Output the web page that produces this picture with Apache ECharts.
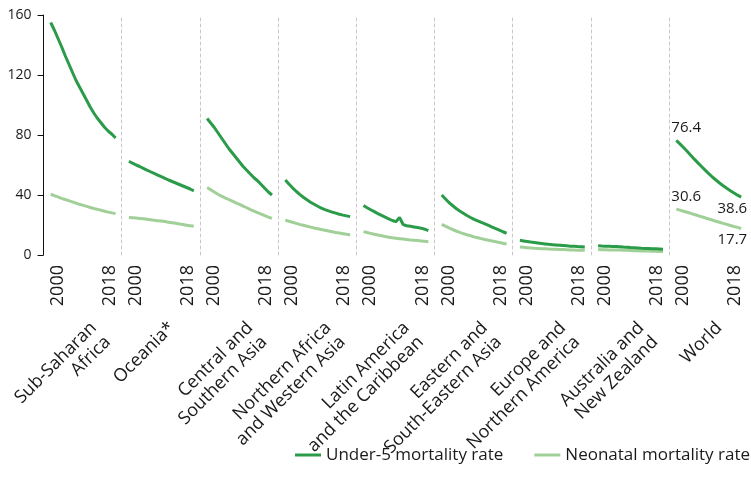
<!DOCTYPE html>
<html><head><meta charset="utf-8">
<script src="https://cdn.jsdelivr.net/npm/echarts@6/dist/echarts.min.js"></script>
<style>html,body{margin:0;padding:0;background:#fff}#c{width:751px;height:494px}</style>
</head><body><div id="c"></div><script>
const years = [2000,2001,2002,2003,2004,2005,2006,2007,2008,2009,2010,2011,2012,2013,2014,2015,2016,2017,2018];
const yearTickLabels = ['2000', '2018'];
const seriesNames = ['Under-5 mortality rate', 'Neonatal mortality rate'];
const regions = ['Sub-Saharan\nAfrica','Oceania*','Central and\nSouthern Asia','Northern Africa\nand Western Asia','Latin America\nand the Caribbean','Eastern and\nSouth-Eastern Asia','Europe and\nNorthern America','Australia and\nNew Zealand','World'];

const u5SSA = [155,150,144.5,139,133,127.5,122,116.5,112,107.5,103,98.5,94.5,91,88,85,82.5,80.5,78];
const nnSSA = [40.5,39.6,38.7,37.8,37,36.2,35.4,34.6,33.8,33.1,32.4,31.7,31,30.4,29.8,29.2,28.6,28.1,27.6];
const u5Oce = [62.5,61.2,60,59,57.8,56.6,55.5,54.4,53.3,52.2,51.1,50,49,48,47,46,45,44,42.8];
const nnOce = [25,24.8,24.6,24.4,24.1,23.8,23.5,23.2,22.9,22.6,22.3,21.9,21.5,21.1,20.7,20.3,19.9,19.5,19.1];
const u5CSA = [91,88,85,81.5,78,74.5,71,68,65,62,59,56.5,54,51.5,49.5,47,44.5,42,40];
const nnCSA = [45,43.5,42,40.5,39.3,38.1,37,35.9,34.8,33.7,32.6,31.5,30.3,29.3,28.3,27.3,26.3,25.3,24.4];
const u5NAWA = [50,47.3,44.8,42.5,40.4,38.5,36.8,35.2,33.8,32.5,31.3,30.3,29.4,28.6,27.9,27.2,26.6,26.1,25.6];
const nnNAWA = [23.3,22.5,21.8,21.1,20.4,19.8,19.2,18.6,18,17.5,17,16.5,16,15.5,15,14.6,14.2,13.8,13.4];
const u5LAC = [33,31.5,30.2,28.9,27.6,26.4,25.2,24.1,23,22.2,25,20.3,19.5,19.1,18.7,18.3,17.9,17.2,16.3];
const nnLAC = [15.6,15,14.4,13.8,13.3,12.8,12.3,11.9,11.5,11.2,10.9,10.6,10.3,10,9.8,9.6,9.4,9.1,8.9];
const u5ESEA = [40,37.5,35,33,31,29.3,27.8,26.3,25,23.8,22.7,21.7,20.8,19.7,18.6,17.6,16.6,15.5,14.5];
const nnESEA = [20.4,19.2,18.1,17,16,15.1,14.3,13.5,12.8,12.1,11.5,10.9,10.3,9.8,9.3,8.8,8.3,7.8,7.4];
const u5ENA = [9.8,9.4,9.0,8.6,8.3,8.0,7.7,7.4,7.1,6.9,6.7,6.5,6.3,6.1,5.9,5.8,5.6,5.5,5.4];
const nnENA = [5.3,5.1,4.9,4.7,4.5,4.4,4.2,4.1,4.0,3.9,3.8,3.7,3.6,3.5,3.4,3.3,3.2,3.15,3.1];
const u5ANZ = [6.2,6.0,5.9,5.8,5.7,5.6,5.5,5.3,5.2,5.0,4.9,4.7,4.5,4.4,4.3,4.2,4.1,4.0,3.9];
const nnANZ = [3.6,3.5,3.5,3.4,3.4,3.3,3.3,3.2,3.1,3.0,2.9,2.8,2.7,2.7,2.6,2.5,2.5,2.4,2.4];
const u5World = [76.4,74.1,71.7,69.1,66.5,63.9,61.4,59.0,56.6,54.3,52.0,50.0,48.0,46.2,44.5,42.9,41.4,39.9,38.6];
const nnWorld = [30.6,29.9,29.2,28.5,27.8,27.0,26.3,25.5,24.8,24.0,23.3,22.5,21.8,21.1,20.4,19.7,19.0,18.4,17.7];

const panels = [
  [u5SSA, nnSSA], [u5Oce, nnOce], [u5CSA, nnCSA], [u5NAWA, nnNAWA], [u5LAC, nnLAC],
  [u5ESEA, nnESEA], [u5ENA, nnENA], [u5ANZ, nnANZ], [u5World, nnWorld]
];
const labelledPanel = 8;

const FONT = '"Open Sans", "Noto Sans", sans-serif';
const TXT = '#1a1a1a';
const COL_U5 = '#2a9b48';
const COL_NN = '#a0d098';
const L = 43.5, W = 78.2, T = 15, H = 240;
const X_MIN = 1998, X_MAX = 2019.7;

const grids = [], xAxes = [], yAxes = [], series = [];

function buildData(vals, withLabels) {
  return vals.map((v, k) => {
    const item = { value: [years[k], v] };
    if (withLabels && k === 0) {
      item.label = { show: true, position: 'top', align: 'left', offset: [-5, 0], distance: 5 };
    } else if (withLabels && k === vals.length - 1) {
      item.label = { show: true, position: 'bottom', align: 'right', offset: [6, 0], distance: 4 };
    }
    return item;
  });
}

panels.forEach((p, i) => {
  grids.push({ left: L + i * W, top: T, width: W, height: H });
  xAxes.push({
    type: 'value', gridIndex: i, min: X_MIN, max: X_MAX,
    axisLine: { show: false }, axisTick: { show: false }, splitLine: { show: false },
    axisLabel: {
      customValues: [2001.9, 2016.35], rotate: 90, margin: 10,
      fontSize: 18, color: TXT, fontFamily: FONT,
      formatter: v => v < 2009 ? yearTickLabels[0] : yearTickLabels[1]
    }
  });
  const first = i === 0;
  yAxes.push({
    type: 'value', gridIndex: i, min: 0, max: 160, interval: 40,
    axisLine: { show: true, lineStyle: first ? { color: '#111', width: 1 } : { color: '#c8c8c8', width: 1, type: [3, 3] } },
    axisTick: { show: first, length: 6, lineStyle: { color: '#111' } },
    axisLabel: { show: first, fontSize: 14, color: TXT, fontFamily: FONT, margin: 12 },
    splitLine: { show: false }
  });
  const lbl = i === labelledPanel;
  const lblStyle = { show: false, fontSize: 15, color: TXT, fontFamily: FONT, formatter: q => q.value[1].toFixed(1) };
  const sym = lbl ? { symbol: 'circle', symbolSize: 0, showSymbol: true } : { symbol: 'none' };
  series.push(Object.assign({
    name: seriesNames[1], type: 'line', xAxisIndex: i, yAxisIndex: i,
    data: buildData(p[1], lbl), silent: true,
    lineStyle: { color: COL_NN, width: 3 }, itemStyle: { color: COL_NN },
    label: lblStyle
  }, sym));
  series.push(Object.assign({
    name: seriesNames[0], type: 'line', xAxisIndex: i, yAxisIndex: i,
    data: buildData(p[0], lbl), silent: true,
    lineStyle: { color: COL_U5, width: 3 }, itemStyle: { color: COL_U5 },
    label: lblStyle
  }, sym));
});

const chart = echarts.init(document.getElementById('c'));
chart.setOption({
  animation: false,
  backgroundColor: '#fff',
  grid: grids, xAxis: xAxes, yAxis: yAxes, series: series,
  legend: {
    data: seriesNames, right: 1, top: 445, padding: 0,
    icon: 'rect', itemWidth: 26, itemHeight: 3, itemGap: 31,
    textStyle: { fontSize: 17, lineHeight: 20, color: TXT, fontFamily: FONT }
  }
});

// region names, placed from each panel's own x axis (panel centre)
const midYear = (X_MIN + X_MAX) / 2;
const baseY = chart.convertToPixel({ yAxisIndex: 0 }, 0);
const graphics = regions.map((name, i) => ({
  type: 'text',
  x: chart.convertToPixel({ xAxisIndex: i }, midYear) + 4,
  y: baseY + 63,
  rotation: Math.PI / 4,
  silent: true,
  style: {
    text: name, align: 'right', verticalAlign: 'top',
    font: '18px ' + FONT, lineHeight: 20, fill: TXT
  }
}));
chart.setOption({ graphic: graphics });
</script></body></html>
